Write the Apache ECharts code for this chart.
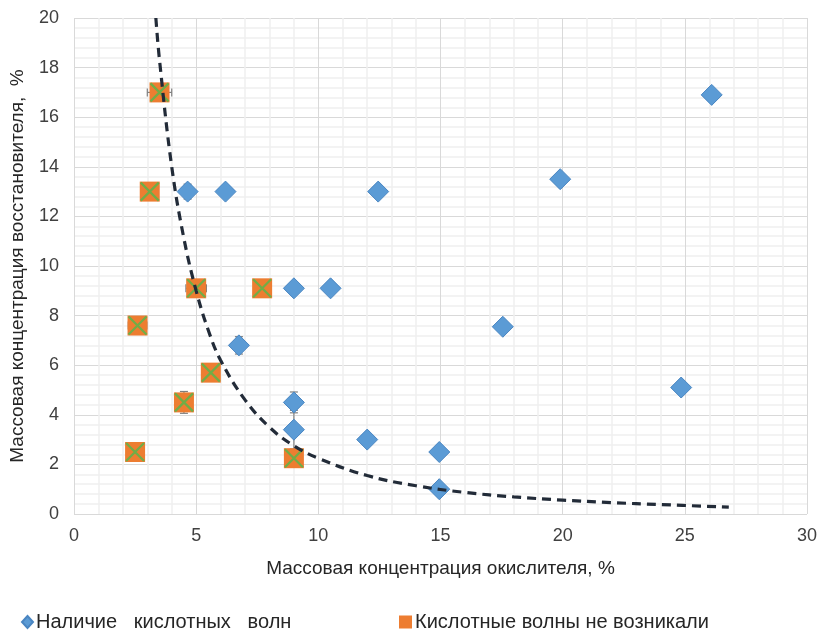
<!DOCTYPE html>
<html>
<head>
<meta charset="utf-8">
<script src="https://cdn.jsdelivr.net/npm/echarts@6/dist/echarts.min.js"></script>
<style>
  html, body { margin: 0; padding: 0; background: #fff; }
  #chart { width: 820px; height: 635px; }
</style>
</head>
<body>
<div id="chart"></div>
<script>
// Наличие кислотных волн: [x, y]
const wavesPoints = [
  [4.65, 13.0], [6.2, 13.0], [12.45, 13.0], [19.9, 13.5], [26.1, 16.9],
  [9.0, 9.1], [10.5, 9.1], [6.75, 6.8], [17.55, 7.55], [24.85, 5.1],
  [9.0, 4.5], [9.0, 3.4], [12.0, 3.0], [14.95, 2.5], [14.95, 1.0]
];
// Кислотные волны не возникали: [x, y]
const noWavesPoints = [
  [3.5, 17.0], [3.1, 13.0], [5.0, 9.1], [7.7, 9.1], [2.6, 7.6],
  [5.6, 5.7], [4.5, 4.5], [2.5, 2.5], [9.0, 2.25]
];
// error bars: [x, y, xErr, yErr]
const errorBars = [
  [3.5, 17.0, 0.5, 0], [5.0, 9.1, 0.42, 0], [2.6, 7.6, 0.38, 0],
  [4.5, 4.5, 0, 0.44], [9.0, 4.5, 0, 0.42], [9.0, 3.4, 0, 0.78],
  [4.65, 13.0, 0, 0.3], [6.75, 6.8, 0, 0.35]
];
// trend curve: [x, y]
const trendPoints = [
  [3.35, 20.0], [3.5, 18.3], [4, 14.0], [4.5, 11.1], [5, 9.0], [5.5, 7.4],
  [6, 6.2], [7, 4.6], [8, 3.5], [9, 2.75], [10, 2.25], [12, 1.55],
  [14, 1.14], [16, 0.87], [18, 0.69], [20, 0.56], [22, 0.46], [24, 0.38], [26.8, 0.28]
];
const xTicks = { min: 0, max: 30, interval: 5 };
const yTicks = { min: 0, max: 20, interval: 2 };

const nameWaves = "Наличие   кислотных   волн";
const nameNoWaves = "Кислотные волны не возникали";
const font = "'Liberation Sans', Arial, sans-serif";

const chart = echarts.init(document.getElementById("chart"));

const option = {
  animation: false,
  backgroundColor: "#fff",
  textStyle: { fontFamily: font },
  grid: { left: 73, right: 12, top: 18, bottom: 121 },
  legend: [
    {
      data: [{ name: nameWaves, icon: "diamond" }],
      left: 16, top: 607,
      itemWidth: 11, itemHeight: 12,
      itemGap: 4,
      textStyle: { fontSize: 20, color: "#262626", fontFamily: font, padding: [0, 0, 0, -2] }
    },
    {
      data: [{ name: nameNoWaves, icon: "rect" }],
      left: 394, top: 607,
      itemWidth: 13, itemHeight: 13,
      textStyle: { fontSize: 20, color: "#262626", fontFamily: font, padding: [0, 0, 0, -2] }
    }
  ],
  xAxis: {
    type: "value",
    min: xTicks.min, max: xTicks.max, interval: xTicks.interval,
    name: "Массовая концентрация окислителя, %",
    nameLocation: "middle",
    nameGap: 45,
    nameTextStyle: { fontSize: 19, color: "#262626" },
    axisLine: { show: false },
    axisTick: { show: false },
    axisLabel: { fontSize: 18, color: "#404040", margin: 13 },
    splitLine: { show: true, lineStyle: { color: "#d9d9d9", width: 1 } },
    minorSplitLine: { show: true, lineStyle: { color: "#efefef", width: 1.5 } },
    minorTick: { show: false, splitNumber: 5 }
  },
  yAxis: {
    type: "value",
    min: yTicks.min, max: yTicks.max, interval: yTicks.interval,
    name: "Массовая концентрация восстановителя,  %",
    nameLocation: "middle",
    nameGap: 47,
    nameTextStyle: { fontSize: 19, color: "#262626" },
    axisLine: { show: false },
    axisTick: { show: false },
    axisLabel: { fontSize: 18, color: "#404040", margin: 15 },
    splitLine: { show: true, lineStyle: { color: "#d9d9d9", width: 1 } },
    minorSplitLine: { show: true, lineStyle: { color: "#efefef", width: 1.5 } },
    minorTick: { show: false, splitNumber: 5 }
  },
  series: [
    {
      name: "errors",
      type: "custom",
      z: 1,
      silent: true,
      data: errorBars,
      renderItem: function (params, api) {
        const x = api.value(0), y = api.value(1);
        const xe = api.value(2), ye = api.value(3);
        const children = [];
        const st = { stroke: "#7f7f7f", lineWidth: 1.2 };
        if (xe > 0) {
          const a = api.coord([x - xe, y]), b = api.coord([x + xe, y]);
          children.push({ type: "line", shape: { x1: a[0], y1: a[1], x2: b[0], y2: b[1] }, style: st });
          children.push({ type: "line", shape: { x1: a[0], y1: a[1] - 4, x2: a[0], y2: a[1] + 4 }, style: st });
          children.push({ type: "line", shape: { x1: b[0], y1: b[1] - 4, x2: b[0], y2: b[1] + 4 }, style: st });
        }
        if (ye > 0) {
          const a = api.coord([x, y - ye]), b = api.coord([x, y + ye]);
          children.push({ type: "line", shape: { x1: a[0], y1: a[1], x2: b[0], y2: b[1] }, style: st });
          children.push({ type: "line", shape: { x1: a[0] - 4, y1: a[1], x2: a[0] + 4, y2: a[1] }, style: st });
          children.push({ type: "line", shape: { x1: b[0] - 4, y1: b[1], x2: b[0] + 4, y2: b[1] }, style: st });
        }
        return { type: "group", children: children };
      }
    },
    {
      name: nameWaves,
      type: "scatter",
      z: 2,
      symbol: "diamond",
      symbolSize: [21, 21],
      itemStyle: { color: "#5b9bd5", borderColor: "#4a86c2", borderWidth: 1, opacity: 1 },
      data: wavesPoints
    },
    {
      name: nameNoWaves,
      type: "scatter",
      z: 2,
      symbol: "rect",
      symbolSize: [20, 20],
      itemStyle: { color: "#ed7d31", borderColor: "#ed7d31", borderWidth: 0, opacity: 1 },
      data: noWavesPoints
    },
    {
      name: "cross",
      type: "scatter",
      z: 3,
      silent: true,
      symbol: "path://M0,0L10,10M10,0L0,10",
      symbolSize: [18, 18],
      itemStyle: { color: "none", borderColor: "#70ad47", borderWidth: 2.2, opacity: 1 },
      data: noWavesPoints
    },
    {
      name: "trend",
      type: "line",
      z: 4,
      silent: true,
      smooth: 0.4,
      symbol: "none",
      lineStyle: { color: "#222b38", width: 3.2, type: [9, 6] },
      data: trendPoints
    }
  ]
};

chart.setOption(option);
</script>
</body>
</html>
